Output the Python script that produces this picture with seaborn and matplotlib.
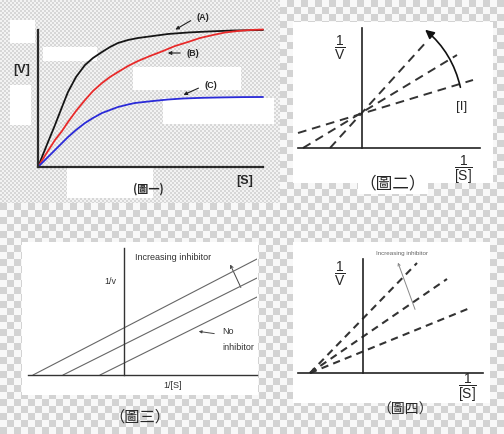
import numpy as np
import pandas as pd
import matplotlib
matplotlib.use('Agg')
import matplotlib.pyplot as plt
import seaborn as sns

# ── Data ──────────────────────────────────────────────────────────────────────
# Fig 1: V vs [S] curves (A, B, C)
s_a = [0, 8, 17, 24, 30, 38, 47, 55, 64, 72, 80, 90, 100, 115, 130, 150, 170, 195, 225]
v_a = [0, 20, 42, 60, 75, 90, 102, 109, 115, 120, 124, 127, 129, 131, 133,
       134.5, 135.5, 136.5, 137]
s_b = [0, 8, 17, 24, 30, 38, 47, 55, 64, 72, 80, 90, 100, 112, 125, 137, 150,
       162, 175, 187, 200, 212, 225]
v_b = [0, 13, 27, 36, 45, 56, 67, 76, 84, 90, 95, 101, 106, 111, 116, 121, 125,
       129, 132, 134.5, 136, 137, 137.5]
s_c = [0, 8, 17, 24, 30, 38, 47, 55, 64, 72, 80, 90, 97, 106, 115, 130, 145,
       165, 185, 205, 225]
v_c = [0, 8, 17, 24, 30, 37, 44, 49, 54, 57, 60, 62.5, 64, 65, 66, 67.5, 68.5,
       69.2, 69.6, 69.9, 70]

# Fig 2: competitive inhibition (Lineweaver-Burk), dashed lines
p2_x0 = [-3.2, -5.9, -6.4]
p2_y0 = [0.0, 0.0, 1.5]
p2_x1 = [6.6, 9.5, 11.1]
p2_y1 = [10.8, 9.3, 6.8]

# Fig 3: uncompetitive inhibition, parallel lines
p3_x0 = [-9.1, -6.1, -2.4]
p3_y0 = [0.0, 0.0, 0.0]
p3_x1 = [13.3, 13.3, 13.3]
p3_y1 = [11.6, 9.7, 7.8]

# Fig 4: noncompetitive inhibition, lines meeting on the x axis
p4_x0 = [-5.3, -5.3, -5.3]
p4_y0 = [0.0, 0.0, 0.0]
p4_x1 = [5.4, 8.4, 10.7]
p4_y1 = [11.0, 9.4, 6.5]

# ── Style ─────────────────────────────────────────────────────────────────────
sns.set_style('white')
plt.rcParams['font.family'] = ['Liberation Sans', 'Noto Sans CJK TC', 'DejaVu Sans']
plt.rcParams['mathtext.fontset'] = 'custom'
plt.rcParams['mathtext.rm'] = 'Liberation Sans'
plt.rcParams['mathtext.it'] = 'Liberation Sans:italic'
CJK = ['Noto Sans CJK TC', 'DejaVu Sans']

W, H = 504, 434
fig = plt.figure(figsize=(W / 100, H / 100), dpi=100)


def rect(x0, y0, x1, y1):
    return [x0 / W, 1 - y1 / H, (x1 - x0) / W, (y1 - y0) / H]


# ── Checkerboard background ───────────────────────────────────────────────────
bg = fig.add_axes([0, 0, 1, 1])
yy, xx = np.mgrid[0:H, 0:W]
coarse = np.where((xx // 7 + yy // 7) % 2 == 0, 0.97, 0.83)
fine = np.where((xx // 2 + yy // 2) % 2 == 0, 0.95, 0.84)
img = np.where((xx < 280) & (yy < 203), fine, coarse)
bg.imshow(img, cmap='gray', vmin=0, vmax=1, extent=[0, W, H, 0],
          interpolation='nearest', aspect='auto')
bg.set_xlim(0, W)
bg.set_ylim(H, 0)
bg.axis('off')

white_boxes = [
    (10, 20, 35, 43), (43, 47, 97, 61), (133, 67, 241, 90),
    (10, 85, 31, 125), (163, 98, 274, 124), (67, 168, 153, 198),
    (293, 22, 493, 183), (22, 242, 258, 395), (293, 242, 490, 403),
]
for x0, y0, x1, y1 in white_boxes:
    bg.add_patch(plt.Rectangle((x0, y0), x1 - x0, y1 - y0,
                               facecolor='white', edgecolor='none'))


def panel(pos, xlim, ylim, lw, color, cross=True):
    ax = fig.add_axes(pos)
    ax.patch.set_alpha(0)
    ax.set_xlim(*xlim)
    ax.set_ylim(*ylim)
    ax.set_xticks([]); ax.set_yticks([])
    for side in ['top', 'right']:
        ax.spines[side].set_visible(False)
    for side in ['left', 'bottom']:
        ax.spines[side].set_linewidth(lw)
        ax.spines[side].set_color(color)
    if cross:
        ax.spines['left'].set_position(('data', 0))
        ax.spines['bottom'].set_position(('data', 0))
    return ax


def segments(x0, y0, x1, y1):
    rows = []
    for i, (a, b, c, d) in enumerate(zip(x0, y0, x1, y1)):
        rows += [{'line': i, 'x': a, 'y': b}, {'line': i, 'x': c, 'y': d}]
    return pd.DataFrame(rows)


# ── Fig 1 ─────────────────────────────────────────────────────────────────────
ax1 = panel(rect(38, 30, 263, 167), (0, 225), (0, 137), 1.6, '#2a2a2a', cross=False)
df1 = pd.concat([
    pd.DataFrame({'curve': 'A', 'S': s_a, 'V': v_a}),
    pd.DataFrame({'curve': 'B', 'S': s_b, 'V': v_b}),
    pd.DataFrame({'curve': 'C', 'S': s_c, 'V': v_c}),
])
sns.lineplot(data=df1, x='S', y='V', hue='curve', ax=ax1, legend=False,
             palette={'A': '#151515', 'B': '#e82a2a', 'C': '#2a2ad8'},
             linewidth=1.3, clip_on=False, solid_joinstyle='round')
ax1.set_xlabel(''); ax1.set_ylabel('')

bg.text(22, 70, '[V]', fontsize=9, fontweight='bold', ha='center', va='center')
bg.text(245, 181, '[S]', fontsize=9, fontweight='bold', ha='center', va='center')
bg.text(148, 189, '(圖一)', fontsize=8, fontweight='bold', ha='center', va='center',
        family=CJK)
for lab, tx, ty, ax_, ay_ in [('(A)', 203, 18, 173, 31), ('(B)', 193, 53, 165, 53),
                              ('(C)', 211, 86, 181, 96)]:
    bg.text(tx, ty, lab, fontsize=6.5, fontweight='bold', ha='center', va='center')
    bg.annotate('', xy=(ax_, ay_), xytext=(tx - 10, ty + (ay_ - ty) * 0.1),
                arrowprops=dict(arrowstyle='-|>', color='#222', lw=0.8,
                                mutation_scale=5))

# ── Fig 2 ─────────────────────────────────────────────────────────────────────
ax2 = panel(rect(298, 28, 480, 148), (-6.4, 11.8), (0, 12.0), 1.2, '#222')
sns.lineplot(data=segments(p2_x0, p2_y0, p2_x1, p2_y1), x='x', y='y',
             units='line', estimator=None, sort=False, ax=ax2, color='#333',
             linewidth=1.4, linestyle=(0, (4.5, 3)), clip_on=False)
ax2.set_xlabel(''); ax2.set_ylabel('')
ax2.annotate('', xy=(6.1, 12.0), xytext=(9.9, 5.8),
             arrowprops=dict(arrowstyle='-|>', connectionstyle='arc3,rad=0.18',
                             color='#111', lw=1.2, mutation_scale=13),
             annotation_clip=False)
bg.text(340, 48, r'$\dfrac{1}{\mathrm{V}}$', fontsize=10, ha='center', va='center')
bg.text(462, 107, '[I]', fontsize=9.5, ha='center', va='center')
bg.text(463, 170, r'$\dfrac{1}{\mathrm{[S]}}$', fontsize=10, ha='center', va='center')
bg.text(393, 184, '（圖二）', fontsize=12, ha='center', va='center', family=CJK,
        bbox=dict(facecolor='white', edgecolor='none', pad=1))

# ── Fig 3 ─────────────────────────────────────────────────────────────────────
ax3 = panel(rect(28, 248, 257, 375), (-9.6, 13.3), (0, 12.7), 1.0, '#333')
sns.lineplot(data=segments(p3_x0, p3_y0, p3_x1, p3_y1), x='x', y='y',
             units='line', estimator=None, sort=False, ax=ax3, color='#666',
             linewidth=0.8)
ax3.set_xlabel(''); ax3.set_ylabel('')
bg.text(110, 282, '1/v', fontsize=6.5, ha='center', va='center', color='#333')
bg.text(173, 386, '1/[S]', fontsize=6.5, ha='center', va='center', color='#333')
bg.text(135, 258, 'Increasing inhibitor', fontsize=6.5, ha='left', va='center',
        color='#333')
bg.text(222, 332, 'No', fontsize=6.5, ha='left', va='center', color='#333')
bg.text(222, 347, 'inhibitor', fontsize=6.5, ha='left', va='center', color='#333')
bg.annotate('', xy=(229, 262), xytext=(242, 290),
            arrowprops=dict(arrowstyle='->', color='#444', lw=0.7, mutation_scale=5))
bg.annotate('', xy=(196, 331), xytext=(217, 334),
            arrowprops=dict(arrowstyle='-|>', color='#444', lw=0.7, mutation_scale=4))
bg.text(140, 417, '（圖三）', fontsize=11, ha='center', va='center', family=CJK)

# ── Fig 4 ─────────────────────────────────────────────────────────────────────
ax4 = panel(rect(298, 259, 483, 373), (-6.5, 12.0), (0, 11.4), 1.2, '#222')
sns.lineplot(data=segments(p4_x0, p4_y0, p4_x1, p4_y1), x='x', y='y',
             units='line', estimator=None, sort=False, ax=ax4, color='#333',
             linewidth=1.5, linestyle=(0, (3.5, 2.5)), clip_on=False)
ax4.set_xlabel(''); ax4.set_ylabel('')
bg.annotate('', xy=(308, 374), xytext=(316, 369),
            arrowprops=dict(arrowstyle='-|>', color='#222', lw=0.8, mutation_scale=6))
bg.annotate('', xy=(397, 260), xytext=(416, 312),
            arrowprops=dict(arrowstyle='->', color='#888', lw=0.7, mutation_scale=4))
bg.text(402, 253, 'Increasing inhibitor', fontsize=4.5, ha='center', va='center',
        color='#666')
bg.text(340, 274, r'$\dfrac{1}{\mathrm{V}}$', fontsize=10, ha='center', va='center')
bg.text(467, 388, r'$\dfrac{1}{\mathrm{[S]}}$', fontsize=10, ha='center', va='center')
bg.text(405, 410, '（圖四）', fontsize=10, ha='center', va='center', family=CJK)

fig.savefig('out.png', dpi=100)
